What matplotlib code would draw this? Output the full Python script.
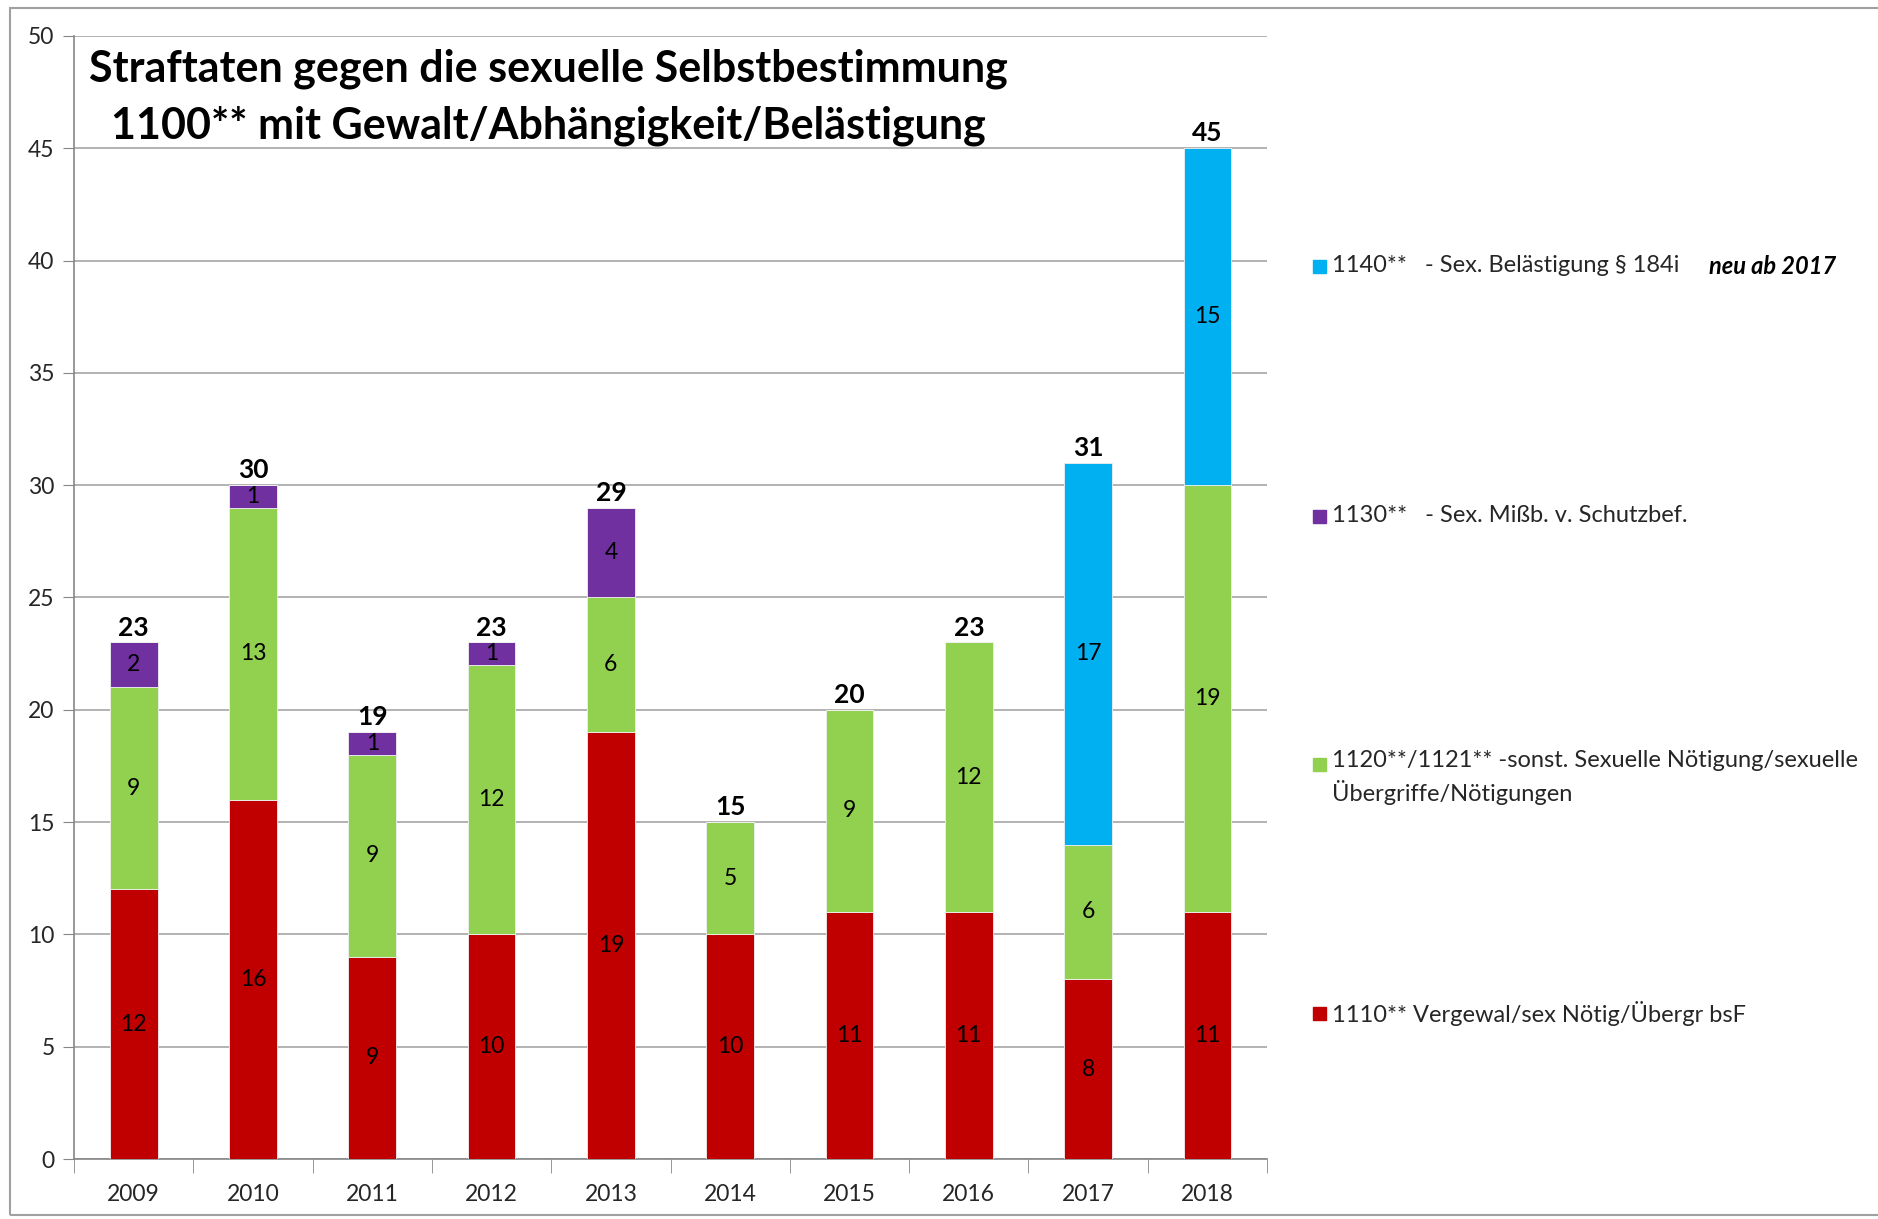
import numpy as np
import matplotlib.pyplot as plt
from matplotlib.patches import Rectangle

plt.rcParams['font.family'] = ['Lato', 'DejaVu Sans']

# Daten
jahre = ['2009', '2010', '2011', '2012', '2013', '2014', '2015', '2016', '2017', '2018']
vergewaltigung = [12, 16, 9, 10, 19, 10, 11, 11, 8, 11]      # 1110**
noetigung = [9, 13, 9, 12, 6, 5, 9, 12, 6, 19]              # 1120**/1121**
missbrauch = [2, 1, 1, 1, 4, 0, 0, 0, 0, 0]                 # 1130**
belaestigung = [0, 0, 0, 0, 0, 0, 0, 0, 17, 15]             # 1140**

serien = [
    ('1110** Vergewal/sex Nötig/Übergr bsF', vergewaltigung, '#C00000'),
    ('1120**/1121** -sonst. Sexuelle Nötigung/sexuelle\nÜbergriffe/Nötigungen', noetigung, '#92D050'),
    ('1130**   - Sex. Mißb. v. Schutzbef.', missbrauch, '#7030A0'),
    ('1140**   - Sex. Belästigung § 184i', belaestigung, '#00B0F0'),
]

fig = plt.figure(figsize=(18.78, 12.19), dpi=100)
ax = fig.add_axes([0.0394, 0.0492, 0.6353, 0.9213])

x = np.arange(len(jahre))
unten = np.zeros(len(jahre))
container = []
for name, werte, farbe in serien:
    werte = np.array(werte, dtype=float)
    c = ax.bar(x, werte, 0.4, bottom=unten, color=farbe, edgecolor='#f0f0f0',
               linewidth=0.6, zorder=3)
    labels = [str(int(v)) if v > 0 else '' for v in werte]
    ax.bar_label(c, labels=labels, label_type='center', fontsize=16.5, color='black')
    container.append(c)
    unten = unten + werte

# Summen oben
summen = [str(int(s)) for s in unten]
ax.bar_label(container[-1], labels=summen, padding=2, fontsize=19,
             fontweight='bold', color='black')

ax.set_xlim(-0.5, len(jahre) - 0.5)
ax.set_ylim(0, 50)
ax.set_yticks(range(0, 51, 5))
ax.set_xticks(x)
ax.set_xticklabels(jahre)
ax.set_xticks(np.arange(-0.5, len(jahre), 1), minor=True)
ax.tick_params(axis='x', which='major', length=0, pad=18, labelsize=16.5, labelcolor='#262626')
ax.tick_params(axis='x', which='minor', length=10, color='#868686', direction='out')
ax.tick_params(axis='y', length=8, color='#868686', labelsize=16.5, labelcolor='#262626', pad=6)
ax.grid(axis='y', color='#A6A6A6', linewidth=1.2, zorder=0)
for s in ['top', 'right']:
    ax.spines[s].set_visible(False)
for s in ['left', 'bottom']:
    ax.spines[s].set_color('#868686')
    ax.spines[s].set_linewidth(1.2)

# Titel
fig.text(0.2918, 0.920, 'Straftaten gegen die sexuelle Selbstbestimmung\n1100** mit Gewalt/Abhängigkeit/Belästigung',
         ha='center', va='center', fontsize=31, fontweight='bold', linespacing=1.5)

# Legende (manuell, von oben nach unten)
leg_y = [1 - 266 / 1219, 1 - 516 / 1219, 1 - 764 / 1219, 1 - 1013 / 1219]
for (name, werte, farbe), y in zip(serien[::-1], leg_y):
    fig.patches.append(Rectangle((1313 / 1878, y - 7 / 1219), 13 / 1878, 13 / 1219,
                                 transform=fig.transFigure, color=farbe))
    mehrzeilig = '\n' in name
    fig.text(1332 / 1878, y + (14 / 1219 if mehrzeilig else 0), name, ha='left',
             va='top' if mehrzeilig else 'center',
             fontsize=17, color='#262626', linespacing=1.45)
fig.text(1709 / 1878, leg_y[0], 'neu ab 2017', ha='left', va='center', fontsize=17,
         fontweight='bold', fontstyle='italic', color='black')

# Rahmen
fig.patches.append(Rectangle((10 / 1878, 4 / 1219), 1900 / 1878, 1207 / 1219,
                             transform=fig.transFigure, fill=False, edgecolor='#A0A0A0',
                             linewidth=1.5))

fig.savefig('out.png', dpi=100)
